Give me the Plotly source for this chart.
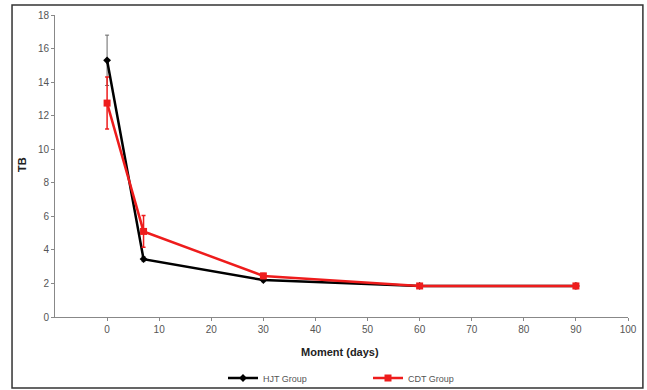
import plotly.graph_objects as go

days = [0, 7, 30, 60, 90]
hjt = [15.3, 3.45, 2.2, 1.85, 1.85]
hjt_err = [1.5, 0.15, 0.1, 0.1, 0.1]
cdt = [12.75, 5.1, 2.45, 1.85, 1.85]
cdt_err = [1.55, 0.95, 0.15, 0.1, 0.15]

fig = go.Figure()
fig.add_trace(go.Scatter(
    x=days, y=hjt, name="HJT Group", mode="lines+markers",
    line=dict(color="black", width=2.5),
    marker=dict(symbol="diamond", size=6, color="black"),
    error_y=dict(type="data", array=hjt_err, color="#666666", thickness=1, width=2),
))
fig.add_trace(go.Scatter(
    x=days, y=cdt, name="CDT Group", mode="lines+markers",
    line=dict(color="#ee1c1c", width=2.5),
    marker=dict(symbol="square", size=7, color="#ee1c1c"),
    error_y=dict(type="data", array=cdt_err, color="#ee1c1c", thickness=1.5, width=2),
))

axis_common = dict(
    showgrid=False, zeroline=False, showline=True, linecolor="#888888", linewidth=1,
    ticks="outside", ticklen=3, tickcolor="#888888", automargin=False,
    tickfont=dict(family="Liberation Sans, Arial", size=10, color="#555555"),
)
fig.update_xaxes(range=[-10, 100], tickvals=[0, 10, 20, 30, 40, 50, 60, 70, 80, 90, 100],
                 **axis_common)
fig.update_yaxes(range=[0, 18], dtick=2, **axis_common)

title_font = dict(family="Liberation Sans, Arial", size=11, color="#222222")
fig.add_annotation(text="<b>Moment (days)</b>", xref="paper", yref="paper",
                   x=(340 - 55) / 573, y=(317 - 352) / 302, showarrow=False,
                   xanchor="center", yanchor="middle", font=title_font)
fig.add_annotation(text="<b>TB</b>", xref="paper", yref="paper",
                   x=(22 - 55) / 573, y=(317 - 165) / 302, showarrow=False, textangle=-90,
                   xanchor="center", yanchor="middle", font=title_font)

fig.add_shape(type="rect", xref="paper", yref="paper",
              x0=-0.075, x1=1.026, y0=-0.235, y1=1.033,
              line=dict(color="#333333", width=1.5), fillcolor="rgba(0,0,0,0)")

fig.update_layout(
    width=647, height=390,
    margin=dict(l=55, r=19, t=15, b=73, autoexpand=False),
    plot_bgcolor="white", paper_bgcolor="white",
    legend=dict(orientation="h", x=(368 - 55) / 573, xanchor="center",
                y=(317 - 378) / 302, yanchor="middle", bgcolor="rgba(0,0,0,0)",
                font=dict(family="Liberation Sans, Arial", size=9, color="#555555"),
                entrywidth=100, itemwidth=30),
)
fig.write_html("out.html")
